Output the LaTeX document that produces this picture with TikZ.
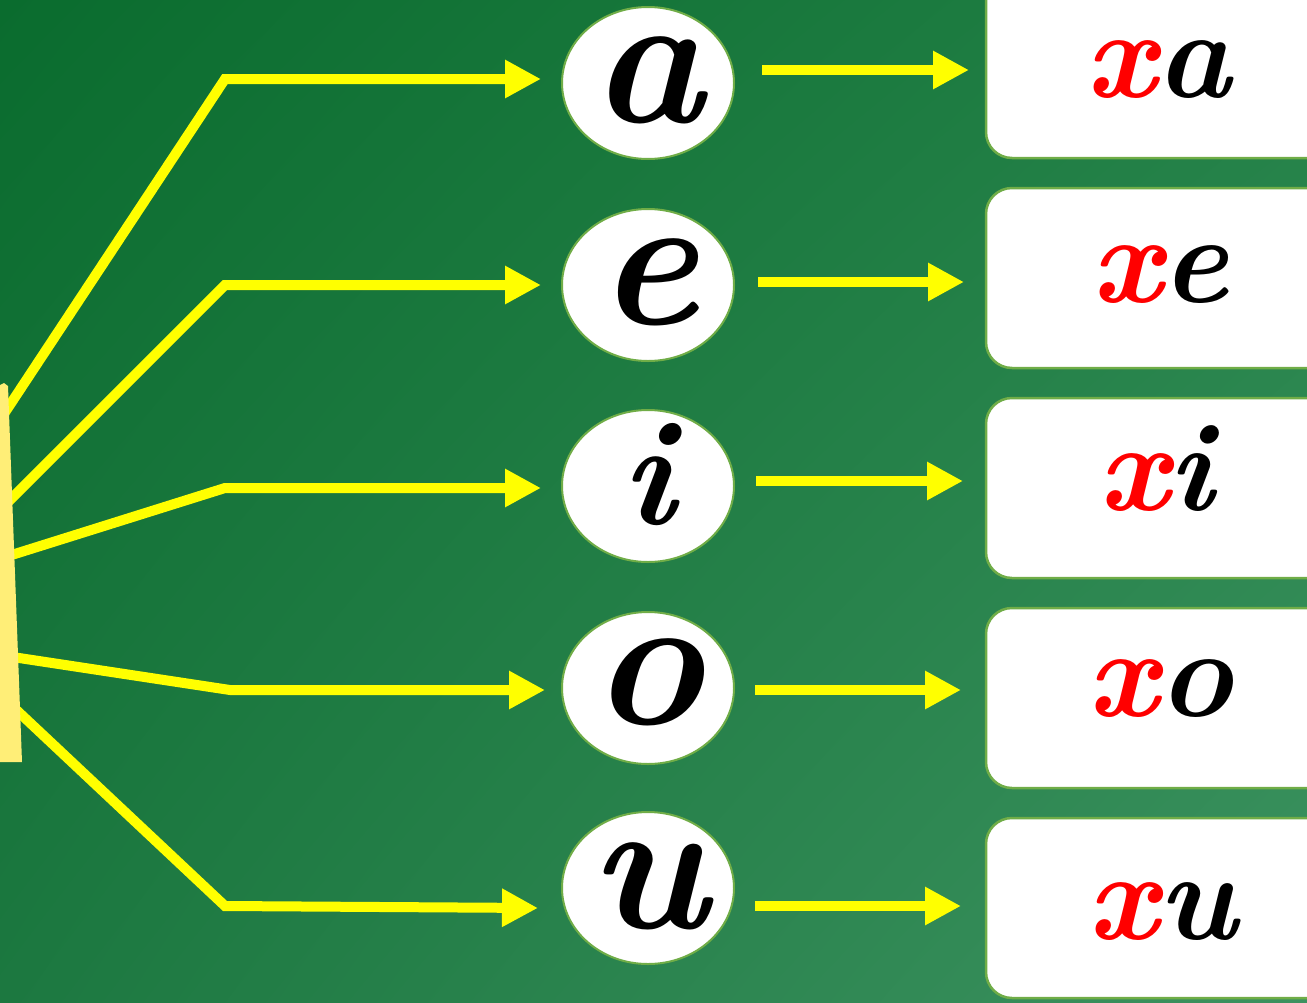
\documentclass[tikz,border=0pt]{standalone}
\usetikzlibrary{arrows.meta,shadings,shapes.geometric}
\definecolor{bgTL}{RGB}{10,108,46}
\definecolor{bgTR}{RGB}{34,128,70}
\definecolor{bgBL}{RGB}{28,120,64}
\definecolor{bgBR}{RGB}{60,146,96}
\definecolor{ylw}{RGB}{255,255,0}
\definecolor{paleylw}{RGB}{255,238,119}
\definecolor{rim}{RGB}{112,173,71}
\definecolor{xred}{RGB}{255,0,0}
\tikzset{
  vowel/.style={ellipse, draw=rim, line width=2pt, fill=white, minimum width=172pt, minimum height=152pt, inner sep=0pt},
  card/.style={draw=rim, line width=2.5pt, fill=white, rounded corners=26pt},
  feed/.style={draw=ylw, line width=10pt, line join=miter, -{Triangle[length=36pt,width=36pt]}},
  bigletter/.style={font=\fontsize{190}{190}\selectfont\bfseries\itshape},
  smallletter/.style={font=\fontsize{126}{126}\selectfont\bfseries\itshape}
}
\begin{document}
\begin{tikzpicture}[x=1pt,y=-1pt]
\useasboundingbox (0,0) rectangle (1307,1002);
\shade[upper left=bgTL, upper right=bgTR, lower left=bgBL, lower right=bgBR] (0,0) rectangle (1307,1002);
% vowel ellipses
\node[vowel] (v1) at (648,83) {};
\node[vowel] (v2) at (648,285) {};
\node[vowel] (v3) at (648,486) {};
\node[vowel] (v4) at (648,688) {};
\node[vowel] (v5) at (648,888) {};
\node[bigletter, anchor=base] at (648,122) {a};
\node[bigletter, anchor=base] at (648,324) {e};
\node[bigletter, font=\fontsize{150}{150}\selectfont\bfseries\itshape, anchor=base] at (648,524) {i};
\node[bigletter, anchor=base] at (648,724) {o};
\node[bigletter, anchor=base] at (648,928) {u};
% cards
\draw[card] (986,-30) rectangle (1340,158);
\draw[card] (986,188) rectangle (1340,368);
\draw[card] (986,398) rectangle (1340,578);
\draw[card] (986,608) rectangle (1340,788);
\draw[card] (986,818) rectangle (1340,998);
\node (b1) at (986,70) {};
\node (b2) at (986,282) {};
\node (b3) at (986,481) {};
\node (b4) at (986,690) {};
\node (b5) at (986,906) {};
\node[smallletter, anchor=base] at (1158,97) {\textcolor{xred}{x}a};
\node[smallletter, anchor=base] at (1160,302) {\textcolor{xred}{x}e};
\node[smallletter, anchor=base] at (1156,510) {\textcolor{xred}{x}i};
\node[smallletter, anchor=base] at (1160,716) {\textcolor{xred}{x}o};
\node[smallletter, anchor=base] at (1162,939) {\textcolor{xred}{x}u};
% starting points and elbows
\coordinate (s1) at (-4,426);
\coordinate (s2) at (-2,512);
\coordinate (s3) at (2,558);
\coordinate (s4) at (6,656);
\coordinate (s5) at (10,704);
\coordinate (k1) at (225,79);
\coordinate (k2) at (225,285);
\coordinate (k3) at (225,488);
\coordinate (k4) at (230,690);
\coordinate (k5) at (225,906);
\coordinate (t1) at (541,79);
\coordinate (t2) at (541,285);
\coordinate (t3) at (541,488);
\coordinate (t4) at (545,690);
\coordinate (t5) at (538,908);
\draw[feed] (s1) -- (k1) -- (t1);
\draw[feed] (s2) -- (k2) -- (t2);
\draw[feed] (s3) -- (k3) -- (t3);
\draw[feed] (s4) -- (k4) -- (t4);
\draw[feed] (s5) -- (k5) -- (t5);
% left pale yellow shape (drawn over the line starts)
\fill[paleylw] (0,385) -- (4,383) -- (8,386) -- (22,762) -- (0,762) -- cycle;
% right arrows
\coordinate (r1) at (762,70);
\coordinate (r2) at (758,282);
\coordinate (r3) at (756,481);
\coordinate (r4) at (755,690);
\coordinate (r5) at (755,906);
\draw[feed] (r1) -- ([xshift=-17pt]b1.center);
\draw[feed] (r2) -- ([xshift=-22pt]b2.center);
\draw[feed] (r3) -- ([xshift=-23pt]b3.center);
\draw[feed] (r4) -- ([xshift=-25pt]b4.center);
\draw[feed] (r5) -- ([xshift=-25pt]b5.center);
\end{tikzpicture}
\end{document}
